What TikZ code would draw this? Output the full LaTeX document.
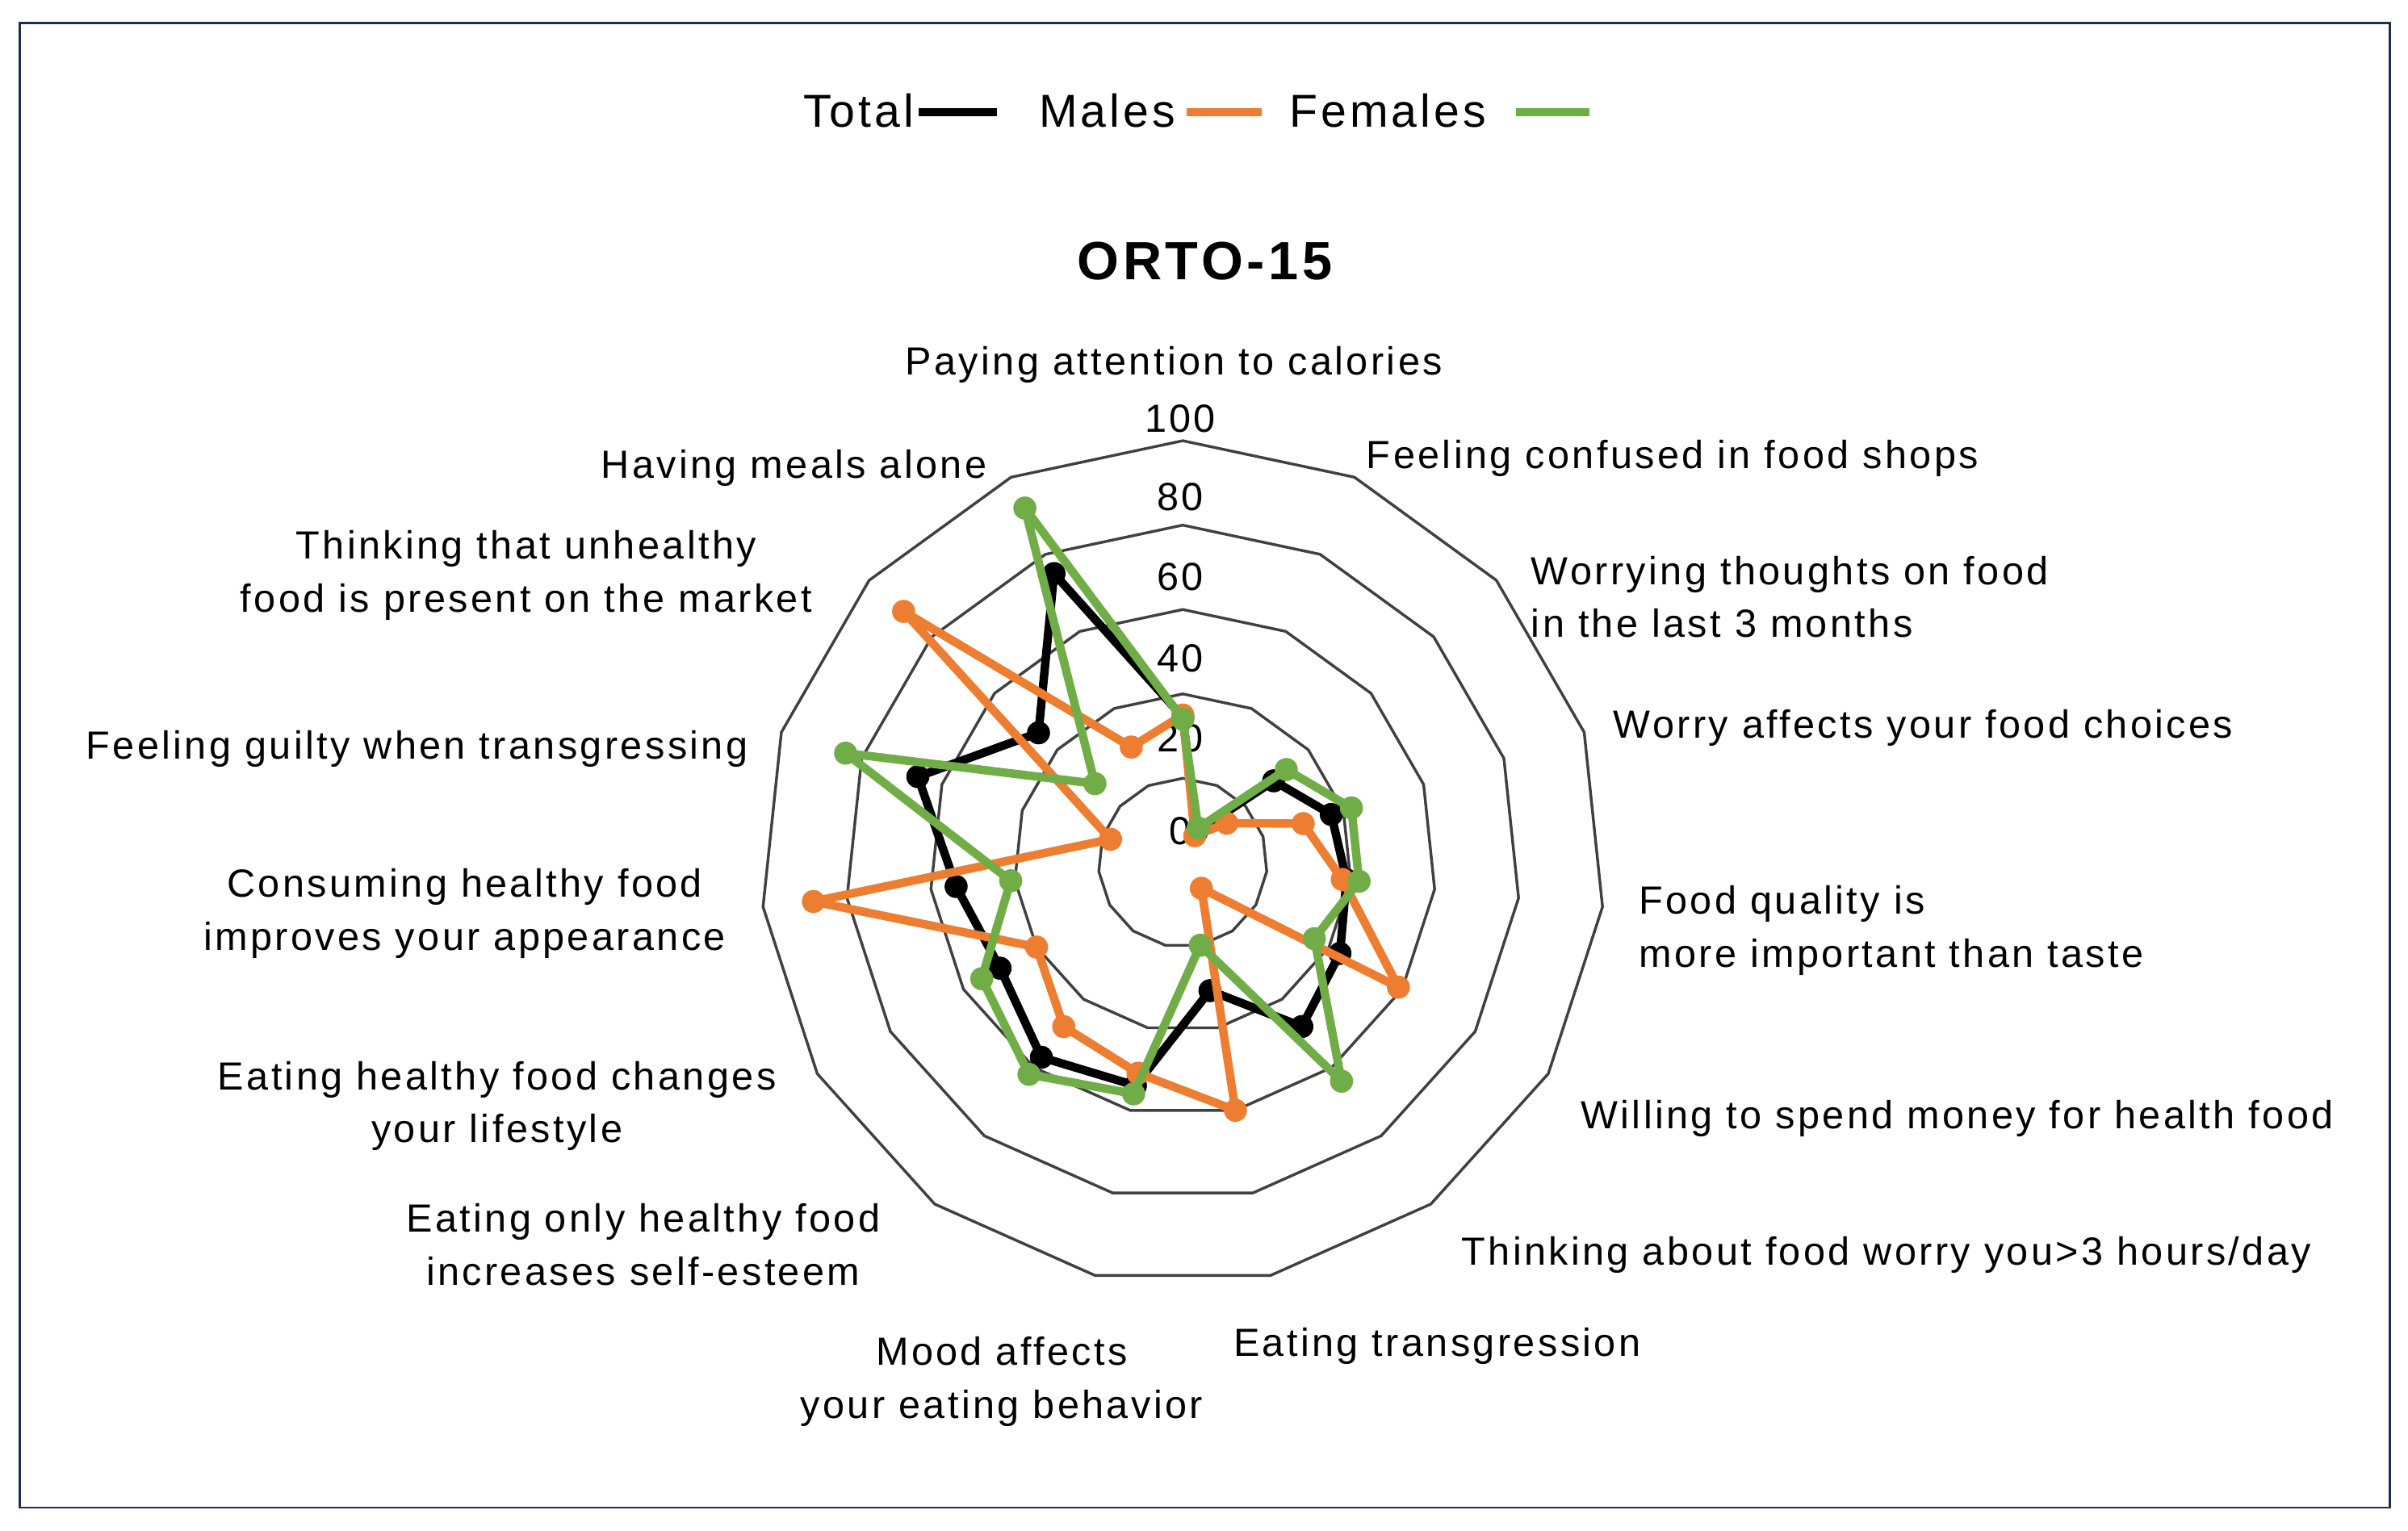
\documentclass[tikz,border=0pt]{standalone}
\usepackage{fontspec}
\setmainfont{Liberation Sans}[LetterSpace=7]
\definecolor{orng}{HTML}{ED7D31}
\definecolor{grn}{HTML}{70AD47}
\definecolor{frame}{HTML}{1F2D4D}
\begin{document}
\begin{tikzpicture}[x=1pt,y=-1pt,
  lab/.style={font=\fontsize{25.5}{34.5}\selectfont,align=center,inner sep=0},
  labl/.style={lab,align=left,anchor=west},
  ser/.style={line width=5.5pt,line join=round},
  tick/.style={font=\fontsize{25.5}{30}\selectfont,inner sep=0}]
\def\cx{768.7}\def\cy{560.8}\def\sc{2.743}
\useasboundingbox (0,0) rectangle (1565,995);
\draw[frame,line width=1.5pt] (13,15) rectangle (1553,980);
% grid
\foreach \r in {20,40,60,80,100}
  \draw[black!75,line width=1.8pt] plot[samples at={0,...,14}] ({\cx+\sc*\r*cos(90-24*\x)},{\cy-\sc*\r*sin(90-24*\x)}) -- cycle;
% ticks
\foreach \v/\yy in {0/540,20/480,40/428,60/375,80/323,100/272}
  \node[tick] at (767,\yy) {\v};
% data
\foreach \v [count=\i from 0] in {34.5,8,29,37,39,43,48,31,54,57,50,54,66,46,75}
  \coordinate (t\i) at ({\cx+\sc*\v*cos(90-24*\i)},{\cy-\sc*\v*sin(90-24*\i)});
\foreach \v [count=\i from 0] in {35,7,14,30,38,59,7.5,60,51,48,40,88,18,89,30}
  \coordinate (m\i) at ({\cx+\sc*\v*cos(90-24*\i)},{\cy-\sc*\v*sin(90-24*\i)});
\foreach \v [count=\i from 0] in {34,9,33,42,42,36,64,20,56,62,55,41,84,28,92}
  \coordinate (f\i) at ({\cx+\sc*\v*cos(90-24*\i)},{\cy-\sc*\v*sin(90-24*\i)});
\draw[ser,black] (t0) \foreach \i in {1,...,14}{ -- (t\i)} -- cycle;
\foreach \i in {0,...,14} \fill[black] (t\i) circle (7.5);
\draw[ser,orng] (m0) \foreach \i in {1,...,14}{ -- (m\i)} -- cycle;
\foreach \i in {0,...,14} \fill[orng] (m\i) circle (7.5);
\draw[ser,grn] (f0) \foreach \i in {1,...,14}{ -- (f\i)} -- cycle;
\foreach \i in {0,...,14} \fill[grn] (f\i) circle (7.5);
% labels
\node[lab] at (763,237) {Paying attention to calories};
\node[lab] at (1087,298) {Feeling confused in food shops};
\node[labl] at (995,388) {Worrying thoughts on food\\ in the last 3 months};
\node[lab] at (1250,473) {Worry affects your food choices};
\node[labl] at (1065,605) {Food quality is\\more important than taste};
\node[lab] at (1272,727) {Willing to spend money for health food};
\node[lab] at (1226,816) {Thinking about food worry you>3 hours/day};
\node[lab] at (934,875) {Eating transgression};
\node[lab] at (651,898) {Mood affects\\your eating behavior};
\node[lab] at (418,809) {Eating only healthy food\\increases self-esteem};
\node[lab] at (323,719) {Eating healthy food changes\\your lifestyle};
\node[lab] at (302,594) {Consuming healthy food\\improves your appearance};
\node[lab] at (271,487) {Feeling guilty when transgressing};
\node[lab] at (342,374) {Thinking that unhealthy\\food is present on the market};
\node[lab] at (516,304) {Having meals alone};
% title
\node[font=\fontsize{35}{40}\selectfont\bfseries] at (783,170) {ORTO-15};
% legend
\node[font=\fontsize{30}{36}\selectfont,anchor=east,inner sep=0] (lt) at (594,72) {Total};
\draw[line width=5pt] (597,73) -- (648,73);
\node[font=\fontsize{30}{36}\selectfont,anchor=east,inner sep=0] (lm) at (764,72) {Males};
\draw[orng,line width=5pt] (771,73) -- (820,73);
\node[font=\fontsize{30}{36}\selectfont,anchor=east,inner sep=0] (lf) at (966,72) {Females};
\draw[grn,line width=5pt] (985,73) -- (1033,73);
\end{tikzpicture}
\end{document}
